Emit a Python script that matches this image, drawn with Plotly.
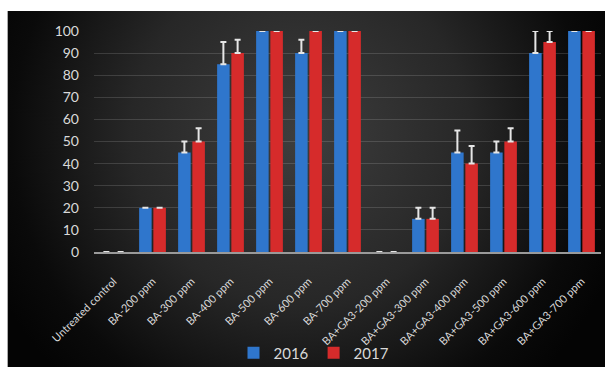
import base64
import plotly.graph_objects as go

categories = [
    "Untreated control", "BA-200 ppm", "BA-300 ppm", "BA-400 ppm", "BA-500 ppm",
    "BA-600 ppm", "BA-700 ppm", "BA+GA3-200 ppm", "BA+GA3-300 ppm",
    "BA+GA3-400 ppm", "BA+GA3-500 ppm", "BA+GA3-600 ppm", "BA+GA3-700 ppm",
]
values_2016 = [0, 20, 45, 85, 100, 90, 100, 0, 15, 45, 45, 90, 100]
values_2017 = [0, 20, 50, 90, 100, 100, 100, 0, 15, 40, 50, 95, 100]
err_2016 = [0, 0, 5, 10, 0, 6, 0, 0, 5, 10, 5, 10, 0]
err_2017 = [0, 0, 6, 6, 0, 0, 0, 0, 5, 8, 6, 5, 0]
y_ticks = [0, 10, 20, 30, 40, 50, 60, 70, 80, 90, 100]

W, H = 605, 367
L, R, T, B = 93.5, 3.5, 31, 115
plot_w = W - L - R
plot_h = H - T - B

font = "Lato, 'Open Sans', sans-serif"
txt = "#d9d9d9"

err_style = dict(type="data", symmetric=False, color="#e6e6e6",
                 thickness=2, width=3)

fig = go.Figure()
fig.add_trace(go.Bar(
    name="2016", x=categories, y=values_2016,
    marker=dict(color="#2f76cc", line=dict(width=0)),
    error_y=dict(array=err_2016, arrayminus=[0] * len(err_2016), **err_style),
    cliponaxis=False,
))
fig.add_trace(go.Bar(
    name="2017", x=categories, y=values_2017,
    marker=dict(color="#d62b2b", line=dict(width=0)),
    error_y=dict(array=err_2017, arrayminus=[0] * len(err_2017), **err_style),
    cliponaxis=False,
))


def px_x(v):
    return (v - L) / plot_w


def px_y(v):
    return (H - B - v) / plot_h


px0, py0 = 7, 11

# soft radial glow over the dark page
pw, ph = W + 20 - px0, H + 20 - py0
svg = (
    f'<svg xmlns="http://www.w3.org/2000/svg" width="{pw}" height="{ph}" '
    f'viewBox="0 0 {pw} {ph}" preserveAspectRatio="none">'
    '<defs><radialGradient id="g" gradientUnits="userSpaceOnUse" '
    'cx="293" cy="124" r="340">'
    '<stop offset="0" stop-color="#3e3e3e"/>'
    '<stop offset="0.5" stop-color="#272727"/>'
    '<stop offset="0.85" stop-color="#0a0a0a"/>'
    '<stop offset="1" stop-color="#040404"/>'
    '</radialGradient></defs>'
    f'<rect width="{pw}" height="{ph}" fill="url(#g)"/></svg>'
)
src = "data:image/svg+xml;base64," + base64.b64encode(svg.encode()).decode()
fig.add_layout_image(dict(
    source=src, xref="paper", yref="paper",
    x=px_x(px0), y=px_y(py0),
    sizex=pw / plot_w, sizey=ph / plot_h,
    sizing="stretch", layer="below", xanchor="left", yanchor="top",
))

# white page border along the top and left edges
fig.add_shape(type="rect", xref="paper", yref="paper", layer="below",
              x0=px_x(-20), x1=px_x(W + 20), y0=px_y(py0), y1=px_y(-20),
              fillcolor="white", line=dict(width=0))
fig.add_shape(type="rect", xref="paper", yref="paper", layer="below",
              x0=px_x(-20), x1=px_x(px0), y0=px_y(H + 20), y1=px_y(-20),
              fillcolor="white", line=dict(width=0))

fig.update_layout(
    width=W, height=H,
    margin=dict(l=L, r=R, t=T, b=B, pad=0, autoexpand=False),
    paper_bgcolor="#040404", plot_bgcolor="rgba(0,0,0,0)",
    barmode="group", bargap=0.27, bargroupgap=0.12,
    font=dict(family=font, color=txt),
    showlegend=True,
    legend=dict(orientation="h", x=314 / W, xref="container", xanchor="center",
                y=(H - 353) / H, yref="container", yanchor="middle",
                font=dict(size=15, color=txt),
                bgcolor="rgba(0,0,0,0)", itemwidth=30, traceorder="normal"),
)
fig.update_xaxes(
    tickangle=-45, tickfont=dict(size=11, color=txt),
    showline=True, linecolor="#9a9a9a", linewidth=1.5,
    showgrid=False, ticks="", automargin=False, ticklabelstandoff=17,
)
fig.update_yaxes(
    range=[0, 100], tickvals=y_ticks, tickfont=dict(size=14, color=txt),
    showgrid=True, gridcolor="rgba(255,255,255,0.14)", gridwidth=1,
    zeroline=False, showline=False, ticks="", ticklabelstandoff=14,
    automargin=False,
)

fig.write_html("out.html")
